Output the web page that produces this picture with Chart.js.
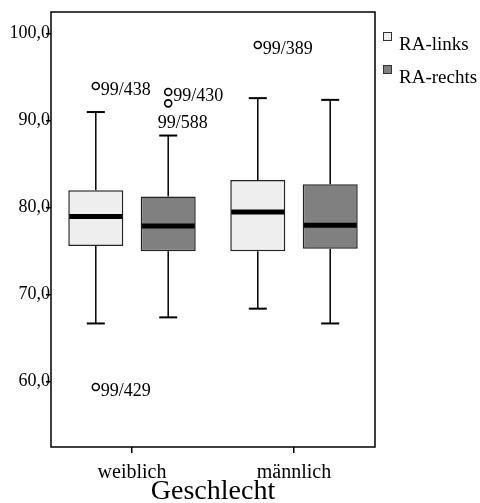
<!DOCTYPE html>
<html>
<head>
<meta charset="utf-8">
<script src="https://cdn.jsdelivr.net/npm/chart.js@4.4.1/dist/chart.umd.min.js"></script>
<style>
html, body { margin: 0; padding: 0; background: #fff; }
</style>
</head>
<body>
<canvas id="boxChart" width="480" height="503"></canvas>
<script>
const categories = ['weiblich', 'männlich'];
const seriesNames = ['RA-links', 'RA-rechts'];
const seriesColors = ['#eeeeee', '#808080'];

// [whisker low, Q1, median, Q3, whisker high] for each category
const linksStats = [[66.7, 75.6, 79.0, 82.0, 91.0], [68.4, 75.0, 79.5, 83.2, 92.6]];
const rechtsStats = [[67.4, 75.0, 77.9, 81.3, 88.3], [66.7, 75.3, 78.0, 82.7, 92.4]];

// outliers for each category
const linksOutliers = [[[94.0, '99/438'], [59.4, '99/429']], [[98.7, '99/389']]];
const rechtsOutliers = [[[93.3, '99/430'], [92.0, '99/588']], []];

const yTicks = [60, 70, 80, 90, 100];

const FONT = "'Liberation Serif', 'Times New Roman', serif";

function line(ctx, x1, y1, x2, y2) {
  ctx.beginPath();
  ctx.moveTo(x1, y1);
  ctx.lineTo(x2, y2);
  ctx.stroke();
}

const boxParts = {
  id: 'boxParts',
  beforeDatasetsDraw(chart) {
    // whiskers go under the boxes
    const ctx = chart.ctx, y = chart.scales.y;
    chart.data.datasets.forEach((ds, di) => {
      chart.getDatasetMeta(di).data.forEach((bar, i) => {
        const s = ds.stats[i];
        const x = bar.x;
        ctx.save();
        ctx.strokeStyle = '#000';
        ctx.lineWidth = 1.5;
        line(ctx, x, y.getPixelForValue(s[0]), x, y.getPixelForValue(s[1]));
        line(ctx, x, y.getPixelForValue(s[3]), x, y.getPixelForValue(s[4]));
        ctx.lineWidth = 2;
        line(ctx, x - 9, y.getPixelForValue(s[0]), x + 9, y.getPixelForValue(s[0]));
        line(ctx, x - 9, y.getPixelForValue(s[4]), x + 9, y.getPixelForValue(s[4]));
        ctx.restore();
      });
    });
  },
  afterDatasetsDraw(chart) {
    const ctx = chart.ctx, y = chart.scales.y;
    chart.data.datasets.forEach((ds, di) => {
      chart.getDatasetMeta(di).data.forEach((bar, i) => {
        const s = ds.stats[i];
        const x = bar.x, half = bar.width / 2;
        ctx.save();
        ctx.strokeStyle = '#000';
        ctx.lineWidth = 5;
        const m = y.getPixelForValue(s[2]);
        line(ctx, x - half + 1, m, x + half - 1, m);

        // outliers + labels
        ctx.font = '18px ' + FONT;
        ctx.textBaseline = 'middle';
        ctx.fillStyle = '#000';
        let lastY = null;
        (ds.outliers[i] || []).forEach(o => {
          const py = y.getPixelForValue(o[0]);
          ctx.beginPath();
          ctx.arc(x, py, 3.5, 0, Math.PI * 2);
          ctx.fillStyle = '#fff';
          ctx.fill();
          ctx.lineWidth = 1.6;
          ctx.stroke();
          ctx.fillStyle = '#000';
          if (lastY !== null && Math.abs(py - lastY) < 14) {
            ctx.fillText(o[1], x - 10.5, py + 20);
          } else {
            ctx.fillText(o[1], x + 5, py + 4);
          }
          lastY = py;
        });
        ctx.restore();
      });
    });

    // frame round the plot
    const a = chart.chartArea;
    ctx.save();
    ctx.strokeStyle = '#000';
    ctx.lineWidth = 1.5;
    ctx.strokeRect(a.left, a.top, a.right - a.left, a.bottom - a.top);

    // legend
    ctx.font = '19px ' + FONT;
    ctx.textBaseline = 'middle';
    chart.data.datasets.forEach((ds, di) => {
      const sy = a.top + 20 + di * 33;
      ctx.fillStyle = ds.backgroundColor;
      ctx.fillRect(a.right + 8, sy, 9, 9);
      ctx.lineWidth = 1;
      ctx.strokeStyle = '#333';
      ctx.strokeRect(a.right + 8.5, sy + 0.5, 8, 8);
      ctx.fillStyle = '#000';
      ctx.fillText(ds.label, a.right + 24, sy + 13);
    });
    ctx.restore();
  }
};

new Chart(document.getElementById('boxChart').getContext('2d'), {
  type: 'bar',
  data: {
    labels: categories,
    datasets: [
      {
        label: seriesNames[0],
        data: linksStats.map(s => [s[1], s[3]]),
        stats: linksStats,
        outliers: linksOutliers,
        backgroundColor: seriesColors[0],
        borderColor: '#222',
        borderWidth: 1.5,
        borderSkipped: false
      },
      {
        label: seriesNames[1],
        data: rechtsStats.map(s => [s[1], s[3]]),
        stats: rechtsStats,
        outliers: rechtsOutliers,
        backgroundColor: seriesColors[1],
        borderColor: '#222',
        borderWidth: 1.5,
        borderSkipped: false
      }
    ]
  },
  options: {
    responsive: false,
    animation: false,
    categoryPercentage: 0.894,
    barPercentage: 0.76,
    layout: { padding: { top: 12, right: 105, left: 0, bottom: 0 } },
    plugins: {
      legend: { display: false },
      tooltip: { enabled: false }
    },
    scales: {
      x: {
        grid: { offset: false, drawOnChartArea: false, tickLength: 6, color: '#000', lineWidth: 1.5 },
        border: { display: false },
        ticks: { color: '#000', font: { family: FONT, size: 20 }, padding: 8 },
        title: {
          display: true,
          text: 'Geschlecht',
          color: '#000',
          font: { family: FONT, size: 28, lineHeight: 1 },
          padding: { top: 0, bottom: -3 }
        },
        afterFit: s => { s.height = 56; }
      },
      y: {
        min: 52.5,
        max: 102.5,
        afterBuildTicks: s => { s.ticks = yTicks.map(v => ({ value: v })); },
        grid: { drawOnChartArea: false, tickLength: 5, color: '#000', lineWidth: 1.5 },
        border: { display: false },
        ticks: {
          color: '#000',
          font: { family: FONT, size: 18 },
          padding: -4,
          callback: v => v.toFixed(1).replace('.', ',')
        },
        afterFit: s => { s.width = 51; }
      }
    }
  },
  plugins: [boxParts]
});
</script>
</body>
</html>
